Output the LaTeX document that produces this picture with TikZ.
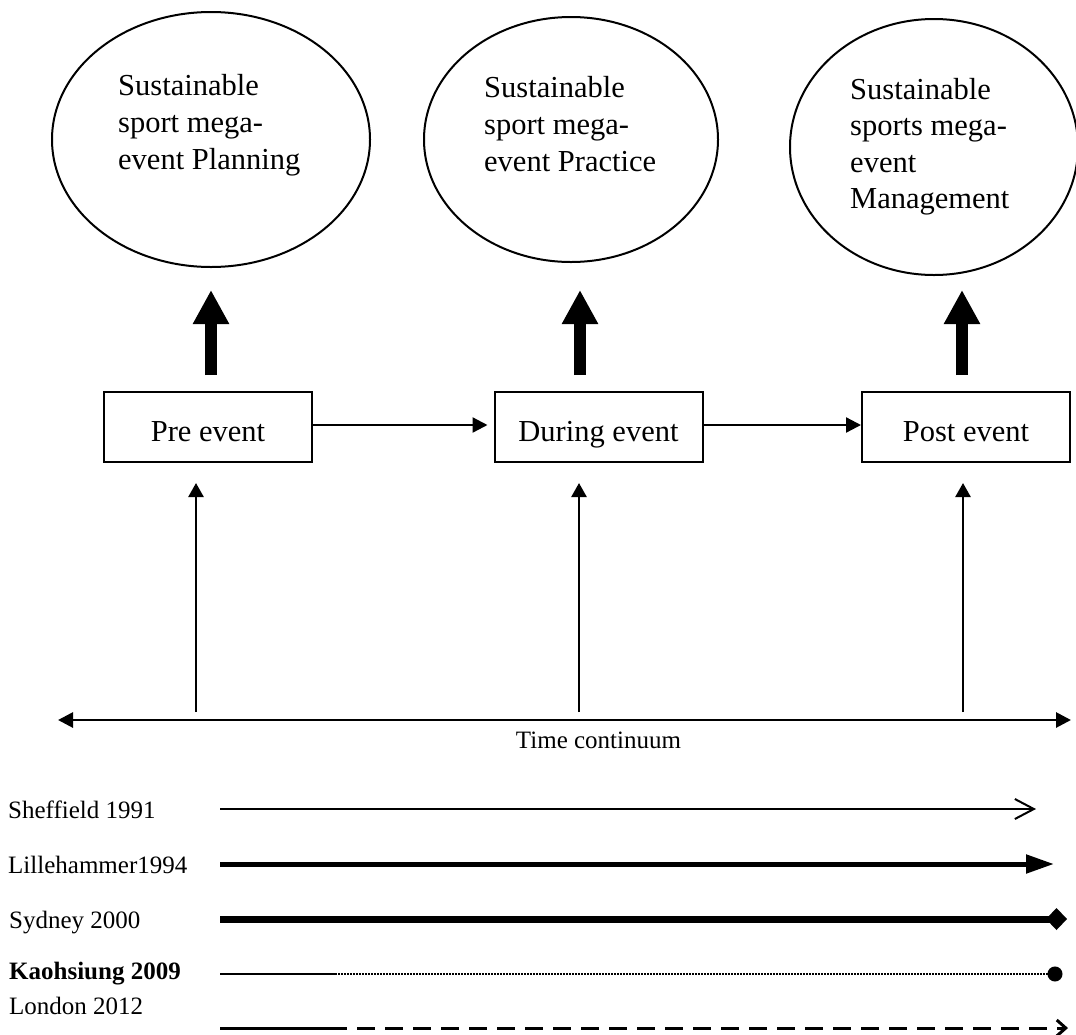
\documentclass[tikz,border=0pt]{standalone}
\usepackage{fontspec}
\setmainfont{Liberation Serif}
\usetikzlibrary{arrows.meta,shapes.geometric}
\begin{document}
\begin{tikzpicture}[x=1pt,y=-1pt,
  ell/.style={draw, line width=2pt, ellipse, inner sep=0pt},
  etext/.style={anchor=base west, inner sep=0pt, font=\fontsize{30.5}{36.6}\selectfont},
  evbox/.style={draw, line width=2pt, rectangle, minimum width=208pt, minimum height=70pt,
    inner sep=0pt, text height=29.4pt, text depth=0pt, font=\fontsize{30.5}{36.6}\selectfont},
  bigarrow/.style={line width=12pt, -{Triangle[length=34pt,width=34pt]}},
  flow/.style={line width=2.3pt, -{Triangle[length=15pt,width=15pt]}},
  uparrow/.style={line width=2.5pt, -{Triangle[length=14pt,width=15pt]}},
  axisline/.style={line width=2.8pt, {Triangle[length=15pt,width=15pt]}-{Triangle[length=15pt,width=15pt]}},
  lbl/.style={anchor=base west, inner sep=0pt, font=\fontsize{25}{30}\selectfont}
]
\useasboundingbox[fill=white] (0,0) rectangle (1076,1034);

% ellipses
\node[ell, minimum width=318pt, minimum height=255pt] (e1) at (211,139.5) {};
\node[ell, minimum width=294pt, minimum height=245pt] (e2) at (571,139.5) {};
\node[ell, minimum width=288pt, minimum height=256pt] (e3) at (934,147) {};

\node[etext] (t1a) at (118,95) {Sustainable};
\node[etext] (t1b) at (118,132) {sport mega-};
\node[etext] (t1c) at (118,169) {event Planning};

\node[etext] (t2a) at (484,97) {Sustainable};
\node[etext] (t2b) at (484,134) {sport mega-};
\node[etext] (t2c) at (484,171) {event Practice};

\node[etext] (t3a) at (850,99) {Sustainable};
\node[etext] (t3b) at (850,135.5) {sports mega-};
\node[etext] (t3c) at (850,172) {event};
\node[etext] (t3d) at (850,208.5) {Management};

% boxes
\node[evbox] (pre) at (208,427) {Pre event};
\node[evbox] (dur) at (598.5,427) {During event};
\node[evbox] (post) at (966,427) {Post event};

% thick arrows
\draw[bigarrow, shorten <=16pt, shorten >=22pt] (pre.north -| e1.south) -- (e1.south);
\draw[bigarrow, shorten <=16pt, shorten >=27pt] ([xshift=-18.5pt]dur.north) -- ([xshift=-18.5pt]dur.north |- e2.south);
\draw[bigarrow, shorten <=16pt, shorten >=14pt] ([xshift=-4pt]post.north) -- ([xshift=-4pt]post.north |- e3.south);

% flow arrows
\draw[flow, shorten >=6pt] ([yshift=2pt]pre.east) -- ([yshift=2pt]dur.west);
\draw[flow] ([yshift=2pt]dur.east) -- ([yshift=2pt]post.west);

% time axis
\coordinate (tl) at (58,720);
\coordinate (tr) at (1071,720);
\draw[axisline] (tl) -- (tr);
\node[lbl, anchor=base] (tc) at (598.5,748) {Time continuum};

\coordinate (b1) at (196,712);
\coordinate (b2) at (579,712);
\coordinate (b3) at (963,712);
\draw[uparrow, shorten >=20pt] (b1) -- (b1 |- pre.south);
\draw[uparrow, shorten >=20pt] (b2) -- (b2 |- dur.south);
\draw[uparrow, shorten >=20pt] (b3) -- (b3 |- post.south);

% legend
\node[lbl] (l1) at (8,818) {Sheffield 1991};
\node[lbl] (l2) at (8,873) {Lillehammer1994};
\node[lbl] (l3) at (9,928) {Sydney 2000};
\node[lbl] (l4) at (9,979) {\bfseries Kaohsiung 2009};
\node[lbl] (l5) at (9,1014) {London 2012};

\coordinate (s0) at (220,809);  \coordinate (s1) at (1036,809);
\coordinate (h0) at (220,864);  \coordinate (h1) at (1054,864);
\coordinate (y0) at (220,919);  \coordinate (y1) at (1067,919);
\coordinate (k0) at (220,974);  \coordinate (km) at (335,974); \coordinate (k1) at (1062.5,974);
\coordinate (n0) at (220,1028); \coordinate (nm) at (347,1028); \coordinate (n1) at (1068,1028);

\draw[line width=2pt, -{Straight Barb[length=19pt,width=20pt]}] (s0) -- (s1);
\draw[line width=5pt, -{Triangle[length=28pt,width=18pt]}] (h0) -- (h1);
\draw[line width=7pt, -{Diamond[length=21pt,width=22pt]}] (y0) -- (y1);
\draw[line width=2pt] (k0) -- (km);
\draw[line width=2.8pt, dash pattern=on 2pt off 1pt, -{Circle[length=15pt]}] (km) -- (k1);
\draw[line width=3pt] (n0) -- (nm);
\draw[line width=3pt, dash pattern=on 18pt off 10pt, dash phase=18pt, -{Straight Barb[length=9pt,width=16pt]}] (nm) -- (n1);
\end{tikzpicture}
\end{document}
